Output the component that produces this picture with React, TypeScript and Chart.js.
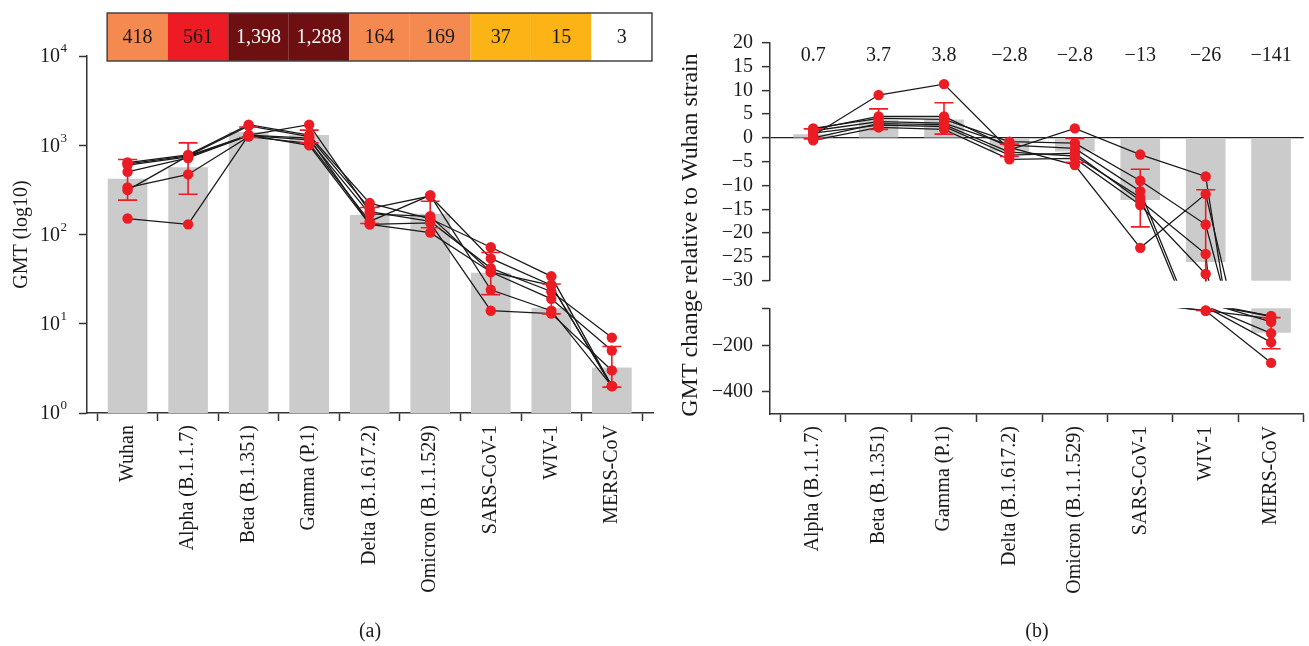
import React, { useEffect, useRef } from "react";
import { Chart, registerables } from "chart.js";

Chart.register(...registerables);

const FONT = "'Liberation Serif', 'Times New Roman', serif";
const RED = "#ec1c24";
const BAR_GREY = "#cbcbcb";
const INK = "#1a1a1a";
const AXIS = "#333333";

// ---------- Panel (a): GMT per strain ----------
const strainsA = [
  "Wuhan",
  "Alpha (B.1.1.7)",
  "Beta (B.1.351)",
  "Gamma (P.1)",
  "Delta (B.1.617.2)",
  "Omicron (B.1.1.529)",
  "SARS-CoV-1",
  "WIV-1",
  "MERS-CoV",
];
const gmtBars = [418, 561, 1398, 1288, 164, 169, 37, 15, 3.2];
const gmtCellLabels = ["418", "561", "1,398", "1,288", "164", "169", "37", "15", "3"];
const gmtCellColors = ["#f58a50", "#ed1c24", "#6e0f12", "#6e0f12", "#f58a50", "#f58a50", "#fbb316", "#fbb316", "#ffffff"];
const gmtCellText = ["#1a1a1a", "#1a1a1a", "#ffffff", "#ffffff", "#1a1a1a", "#1a1a1a", "#1a1a1a", "#1a1a1a", "#1a1a1a"];
const subjectGmt = [
  [640, 780, 1700, 1300, 225, 150, 72, 34, 2],
  [620, 760, 1650, 1250, 195, 270, 54, 27, 2],
  [600, 740, 1300, 1700, 180, 140, 42, 23, 7],
  [503, 720, 1280, 1150, 170, 160, 38, 19, 5],
  [336, 471, 1250, 1050, 140, 275, 24, 14, 2],
  [314, 760, 1300, 1000, 130, 135, 14, 13, 3],
  [151, 130, 1300, 1200, 130, 105, 38, 27, 2],
];
const gmtErrLow = [243, 283, 1220, 1064, 133, 119, 21.2, 12.9, 1.95];
const gmtErrHigh = [692, 1064, 1600, 1478, 201, 236, 62.8, 27.9, 5.55];
const decadeTicks = [1, 10, 100, 1000, 10000];
const decadeExp = ["0", "1", "2", "3", "4"];

// ---------- Panel (b): fold change vs Wuhan ----------
const strainsB = strainsA.slice(1);
const foldBars = [0.7, 3.7, 3.8, -2.8, -2.8, -13, -26, -141];
const foldLabels = ["0.7", "3.7", "3.8", "\u22122.8", "\u22122.8", "\u221213", "\u221226", "\u2212141"];
const subjectFold = [
  [0.5, 9.0, 11.3, -2.5, 2.0, -3.5, -8.1, -95],
  [2.0, 4.1, 3.9, -0.8, -1.1, -9.0, -18.2, -70],
  [1.5, 3.4, 3.1, -1.5, -2.2, -11.2, -45, -80],
  [1.0, 2.7, 2.4, -3.6, -3.2, -13.2, -24.4, -145],
  [-0.5, 2.2, 1.8, -4.5, -4.3, -14.1, -28.6, -185],
  [1.8, 4.5, 4.5, -2.0, -5.7, -23.1, -11.8, -70],
  [0.0, 3.0, 2.8, -3.0, -3.8, -12.5, -46, -275],
];
const foldErrLow = [-0.2, 1.8, 0.8, -3.9, -5.1, -18.7, -45, -213];
const foldErrHigh = [1.9, 6.1, 7.4, -1.3, -0.1, -6.6, -10.9, -76];
const upperTicksB = [20, 15, 10, 5, 0, -5, -10, -15, -20, -25, -30];
const lowerTicksB = [-200, -400];
const upperRangeB = [-30, 20];
const lowerRangeB = [-500, -35];

const fmt = (v: number) => (v < 0 ? "\u2212" + Math.abs(v) : String(v));

function errorBars(lows: number[], highs: number[]) {
  return {
    id: "errorBars",
    afterDatasetsDraw(chart: any) {
      const { ctx, chartArea: a } = chart;
      const x = chart.scales.x;
      const y = chart.scales.y;
      ctx.save();
      ctx.beginPath();
      ctx.rect(a.left, a.top - 1, a.right - a.left, a.bottom - a.top + 2);
      ctx.clip();
      ctx.strokeStyle = RED;
      ctx.lineWidth = 1.6;
      lows.forEach((lo, i) => {
        const px = x.getPixelForValue(i);
        const y1 = y.getPixelForValue(lo);
        const y2 = y.getPixelForValue(highs[i]);
        ctx.beginPath();
        ctx.moveTo(px, y1);
        ctx.lineTo(px, y2);
        ctx.moveTo(px - 9.5, y1);
        ctx.lineTo(px + 9.5, y1);
        ctx.moveTo(px - 9.5, y2);
        ctx.lineTo(px + 9.5, y2);
        ctx.stroke();
      });
      ctx.restore();
    },
  };
}

// keep: which values are shown as dots in this panel segment
function subjectDatasets(subjects: number[][], keep: (v: number) => boolean, lineClip?: number) {
  const ds: any[] = [];
  ds.push({
    type: "scatter",
    data: subjects.flatMap((s) => s.map((v, i) => ({ x: i, y: v })).filter((p) => keep(p.y))),
    pointRadius: 5.2,
    pointBackgroundColor: RED,
    pointBorderWidth: 0,
    showLine: false,
    order: 0,
    clip: false,
  });
  subjects.forEach((s) =>
    ds.push({
      type: "line",
      data: s.map((v, i) => ({ x: i, y: v })),
      borderColor: INK,
      borderWidth: 1.3,
      pointRadius: 0,
      fill: false,
      tension: 0,
      order: 2,
      ...(lineClip !== undefined ? { clip: lineClip } : {}),
    })
  );
  return ds;
}

const baseOptions = {
  animation: false as const,
  responsive: false,
  events: [] as any[],
  plugins: { legend: { display: false }, tooltip: { enabled: false } },
};

function configA(): any {
  const datasets = subjectDatasets(subjectGmt, () => true);
  datasets.push({
    type: "bar",
    data: gmtBars.map((v, i) => ({ x: i, y: v })),
    backgroundColor: BAR_GREY,
    barThickness: 39,
    order: 3,
  });

  const strip = {
    id: "gmtStrip",
    afterDraw(chart: any) {
      const { ctx } = chart;
      const x = chart.scales.x;
      const top = 13;
      const bottom = 61;
      ctx.save();
      gmtCellLabels.forEach((lab, i) => {
        const l = x.getPixelForValue(i - 0.337);
        const r = x.getPixelForValue(i + 0.663);
        ctx.fillStyle = gmtCellColors[i];
        ctx.fillRect(l, top, r - l, bottom - top);
        ctx.fillStyle = gmtCellText[i];
        ctx.font = `20px ${FONT}`;
        ctx.textAlign = "center";
        ctx.textBaseline = "middle";
        ctx.fillText(lab, (l + r) / 2, (top + bottom) / 2 + 1);
      });
      const l0 = x.getPixelForValue(-0.337);
      const r0 = x.getPixelForValue(gmtCellLabels.length - 0.337);
      ctx.strokeStyle = "#444";
      ctx.lineWidth = 1.5;
      ctx.strokeRect(l0, top, r0 - l0, bottom - top);
      ctx.restore();
    },
  };

  const decadeLabels = {
    id: "decadeLabels",
    afterDraw(chart: any) {
      const { ctx } = chart;
      const y = chart.scales.y;
      ctx.save();
      ctx.fillStyle = INK;
      decadeTicks.forEach((v, i) => {
        const py = y.getPixelForValue(v);
        ctx.font = `20px ${FONT}`;
        ctx.textAlign = "right";
        ctx.textBaseline = "middle";
        ctx.fillText("10", 60, py + 1);
        ctx.font = `13px ${FONT}`;
        ctx.textAlign = "left";
        ctx.fillText(decadeExp[i], 60.5, py - 7);
      });
      ctx.restore();
    },
  };

  return {
    type: "bar",
    data: { datasets },
    options: {
      ...baseOptions,
      layout: { padding: { top: 56, right: 7, left: 0, bottom: 0 } },
      scales: {
        x: {
          type: "linear",
          min: -0.67,
          max: 8.68,
          offset: false,
          afterBuildTicks: (s: any) => {
            s.ticks = strainsA.map((_, i) => ({ value: i }));
          },
          afterFit: (s: any) => {
            s.height = 233;
          },
          ticks: {
            callback: (v: number) => strainsA[v],
            autoSkip: false,
            maxRotation: 90,
            minRotation: 90,
            padding: 4,
            color: INK,
            font: { family: FONT, size: 20 },
          },
          grid: { drawOnChartArea: false, tickLength: 8, tickColor: AXIS, tickWidth: 1.5 },
          border: { color: AXIS, width: 1.5 },
          title: {
            display: true,
            text: "(a)",
            color: INK,
            font: { family: FONT, size: 20 },
            padding: { top: 0, bottom: 2 },
          },
        },
        y: {
          type: "logarithmic",
          min: 1,
          max: 10000,
          afterBuildTicks: (s: any) => {
            s.ticks = decadeTicks.map((v) => ({ value: v }));
          },
          afterFit: (s: any) => {
            s.width = 87;
          },
          ticks: { display: false },
          grid: { drawOnChartArea: false, tickLength: 8, tickColor: AXIS, tickWidth: 1.5 },
          border: { color: AXIS, width: 1.5 },
          title: {
            display: true,
            text: "GMT (log10)",
            color: INK,
            font: { family: FONT, size: 20 },
            padding: { top: 10, bottom: 0 },
          },
        },
      },
    },
    plugins: [strip, decadeLabels, errorBars(gmtErrLow, gmtErrHigh)],
  };
}

function configBUpper(): any {
  const datasets = subjectDatasets(subjectFold, (v) => v >= upperRangeB[0], 0);
  datasets.push({
    type: "bar",
    data: foldBars.map((v, i) => ({ x: i, y: v })),
    backgroundColor: BAR_GREY,
    barThickness: 39,
    order: 3,
    clip: 0,
  });
  const topLabels = {
    id: "foldLabels",
    afterDraw(chart: any) {
      const { ctx, chartArea } = chart;
      const x = chart.scales.x;
      ctx.save();
      ctx.fillStyle = INK;
      ctx.font = `20px ${FONT}`;
      ctx.textAlign = "center";
      ctx.textBaseline = "middle";
      foldLabels.forEach((lab, i) => {
        ctx.fillText(lab, x.getPixelForValue(i), chartArea.top + 13);
      });
      ctx.restore();
    },
  };
  return {
    type: "bar",
    data: { datasets },
    options: {
      ...baseOptions,
      layout: { padding: { top: 42.7, right: 0, left: 0, bottom: 365.3 } },
      scales: {
        x: { type: "linear", display: false, min: -0.66, max: 7.5, offset: false },
        y: {
          type: "linear",
          min: upperRangeB[0],
          max: upperRangeB[1],
          afterBuildTicks: (s: any) => {
            s.ticks = upperTicksB.map((v) => ({ value: v }));
          },
          afterFit: (s: any) => {
            s.width = 90;
          },
          ticks: {
            callback: (v: number) => fmt(v),
            autoSkip: false,
            color: INK,
            padding: 9,
            font: { family: FONT, size: 20 },
          },
          grid: {
            drawOnChartArea: true,
            color: (c: any) => (c.tick && c.tick.value === 0 ? "#222" : "rgba(0,0,0,0)"),
            lineWidth: 1.3,
            tickLength: 8,
            tickColor: AXIS,
            tickWidth: 1.5,
          },
          border: { color: AXIS, width: 1.5 },
        },
      },
    },
    plugins: [topLabels, errorBars(foldErrLow, foldErrHigh)],
  };
}

function configBLower(): any {
  const datasets = subjectDatasets(subjectFold, (v) => v <= lowerRangeB[1], 0);
  datasets.push({
    type: "bar",
    data: foldBars.map((v, i) => ({ x: i, y: v })),
    backgroundColor: BAR_GREY,
    barThickness: 39,
    order: 3,
    clip: 0,
  });
  const yTitle = {
    id: "yTitleB",
    afterDraw(chart: any) {
      const { ctx } = chart;
      ctx.save();
      ctx.translate(11, 235);
      ctx.rotate(-Math.PI / 2);
      ctx.fillStyle = INK;
      ctx.font = `24px ${FONT}`;
      ctx.textAlign = "center";
      ctx.textBaseline = "middle";
      ctx.fillText("GMT change relative to Wuhan strain", 0, 0);
      ctx.restore();
    },
  };
  return {
    type: "bar",
    data: { datasets },
    options: {
      ...baseOptions,
      layout: { padding: { top: 308.3, right: 0, left: 0, bottom: 0 } },
      scales: {
        x: {
          type: "linear",
          min: -0.66,
          max: 7.5,
          offset: false,
          afterBuildTicks: (s: any) => {
            s.ticks = strainsB.map((_, i) => ({ value: i }));
          },
          afterFit: (s: any) => {
            s.height = 232;
          },
          ticks: {
            callback: (v: number) => strainsB[v],
            autoSkip: false,
            maxRotation: 90,
            minRotation: 90,
            padding: 4,
            color: INK,
            font: { family: FONT, size: 20 },
          },
          grid: { drawOnChartArea: false, tickLength: 8, tickColor: AXIS, tickWidth: 1.5 },
          border: { color: AXIS, width: 1.5 },
          title: {
            display: true,
            text: "(b)",
            color: INK,
            font: { family: FONT, size: 20 },
            padding: { top: 0, bottom: 2 },
          },
        },
        y: {
          type: "linear",
          min: lowerRangeB[0],
          max: lowerRangeB[1],
          afterBuildTicks: (s: any) => {
            s.ticks = [...lowerTicksB, lowerRangeB[1]].map((v) => ({ value: v }));
          },
          afterFit: (s: any) => {
            s.width = 90;
          },
          ticks: {
            callback: (v: number) => (lowerTicksB.includes(v) ? fmt(v) : ""),
            autoSkip: false,
            color: INK,
            padding: 9,
            font: { family: FONT, size: 20 },
          },
          grid: { drawOnChartArea: false, tickLength: 8, tickColor: AXIS, tickWidth: 1.5 },
          border: { color: AXIS, width: 1.5 },
        },
      },
    },
    plugins: [yTitle, errorBars(foldErrLow, foldErrHigh)],
  };
}

export default function App() {
  const refA = useRef<HTMLCanvasElement>(null);
  const refB1 = useRef<HTMLCanvasElement>(null);
  const refB2 = useRef<HTMLCanvasElement>(null);

  useEffect(() => {
    const charts = [
      new Chart(refA.current as HTMLCanvasElement, configA()),
      new Chart(refB1.current as HTMLCanvasElement, configBUpper()),
      new Chart(refB2.current as HTMLCanvasElement, configBLower()),
    ];
    return () => charts.forEach((c) => c.destroy());
  }, []);

  const abs = (left: number, w: number): React.CSSProperties => ({
    position: "absolute",
    left,
    top: 0,
    width: w,
    height: 646,
  });

  return (
    <div>
      <canvas ref={refA} width={660} height={646} style={abs(0, 660)} />
      <canvas ref={refB1} width={629} height={646} style={abs(680, 629)} />
      <canvas ref={refB2} width={629} height={646} style={abs(680, 629)} />
    </div>
  );
}
